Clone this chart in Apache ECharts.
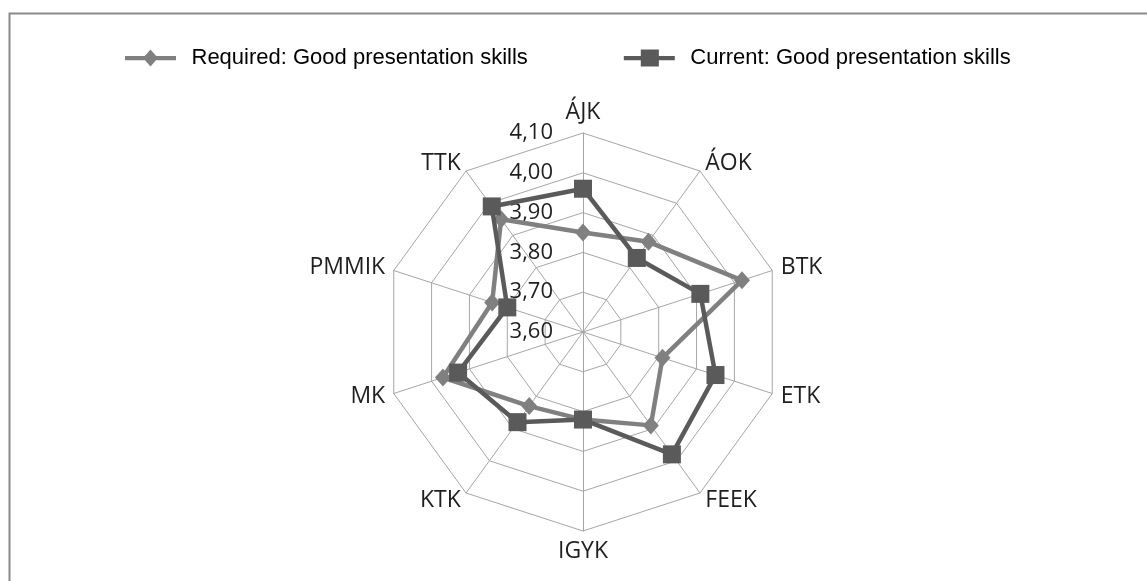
<!DOCTYPE html>
<html>
<head>
<meta charset="utf-8">
<script src="https://cdn.jsdelivr.net/npm/echarts@6/dist/echarts.min.js"></script>
<style>
  html, body { margin: 0; padding: 0; background: #fff; }
  #chart { width: 1147px; height: 581px; }
</style>
</head>
<body>
<div id="chart"></div>
<script>
// categories clockwise from the top
const categories = ["ÁJK", "ÁOK", "BTK", "ETK", "FEEK", "IGYK", "KTK", "MK", "PMMIK", "TTK"];
const requiredValues = [3.85, 3.88, 4.02, 3.81, 3.89, 3.82, 3.83, 3.97, 3.84, 3.95];
const currentValues = [3.96, 3.83, 3.91, 3.95, 3.98, 3.82, 3.88, 3.93, 3.80, 3.99];
const tickLabels = ["3,60", "3,70", "3,80", "3,90", "4,00", "4,10"];
const seriesNames = ["Required: Good presentation skills", "Current: Good presentation skills"];

const axisMin = 3.6;
const axisMax = 4.1;

// echarts radar goes counter-clockwise, so keep the first one and flip the rest
function clockwise(arr) {
  return [arr[0]].concat(arr.slice(1).reverse());
}

// legend icons: line with a diamond / a square on it
const diamondIcon = "path://M0,6L48,6L48,10L0,10Z M24,0L31,8L24,16L17,8Z";
const squareIcon = "path://M0,6L48,6L48,10L0,10Z M16,0L33,0L33,16L16,16Z";

const labelFont = "Open Sans, Noto Sans, sans-serif";

const chart = echarts.init(document.getElementById("chart"));
const center = [583, 332];
const radius = 199;

chart.setOption({
  animation: false,
  backgroundColor: "#fff",
  graphic: [{
    type: "rect",
    left: 7, top: 11,
    shape: { width: 1200, height: 700 },
    style: { fill: "none", stroke: "#8a8a8a", lineWidth: 2 }
  }],
  legend: {
    left: 120,
    top: 42,
    itemWidth: 52,
    itemHeight: 17,
    itemGap: 96,
    data: [
      { name: seriesNames[0], icon: diamondIcon },
      { name: seriesNames[1], icon: squareIcon }
    ],
    textStyle: {
      fontFamily: "Liberation Sans Narrow, Liberation Sans, Arial",
      fontSize: 22,
      color: "#000",
      padding: [0, 0, 0, 10]
    }
  },
  radar: {
    center: center,
    radius: radius,
    startAngle: 90,
    shape: "polygon",
    splitNumber: 5,
    indicator: clockwise(categories).map(function (c) {
      return { name: c, min: axisMin, max: axisMax };
    }),
    axisName: {
      color: "#1f1f1f",
      fontFamily: labelFont,
      fontSize: 23
    },
    nameGap: 9,
    splitArea: { show: false },
    splitLine: { lineStyle: { color: "#a6a6a6", width: 1 } },
    axisLine: { lineStyle: { color: "#a6a6a6", width: 1 } }
  },
  polar: { center: center, radius: radius },
  angleAxis: { type: "value", startAngle: 90, show: false, min: 0, max: 360 },
  radiusAxis: {
    type: "value",
    min: axisMin,
    max: axisMax,
    interval: 0.1,
    axisLine: { show: false },
    axisTick: { show: false },
    splitLine: { show: false },
    axisLabel: {
      margin: 30,
      fontFamily: labelFont,
      fontSize: 22,
      color: "#1f1f1f",
      formatter: function (v) {
        const i = Math.round((v - axisMin) * 10);
        return tickLabels[i];
      }
    }
  },
  series: [{
    type: "radar",
    symbol: "diamond",
    symbolSize: [16, 18],
    lineStyle: { color: "#808080", width: 4.5 },
    itemStyle: { color: "#808080" },
    z: 2,
    data: [{ name: seriesNames[0], value: clockwise(requiredValues) }]
  }, {
    type: "radar",
    symbol: "rect",
    symbolSize: 18,
    lineStyle: { color: "#5a5a5a", width: 4.5 },
    itemStyle: { color: "#5a5a5a" },
    z: 3,
    data: [{ name: seriesNames[1], value: clockwise(currentValues) }]
  }]
});
</script>
</body>
</html>
